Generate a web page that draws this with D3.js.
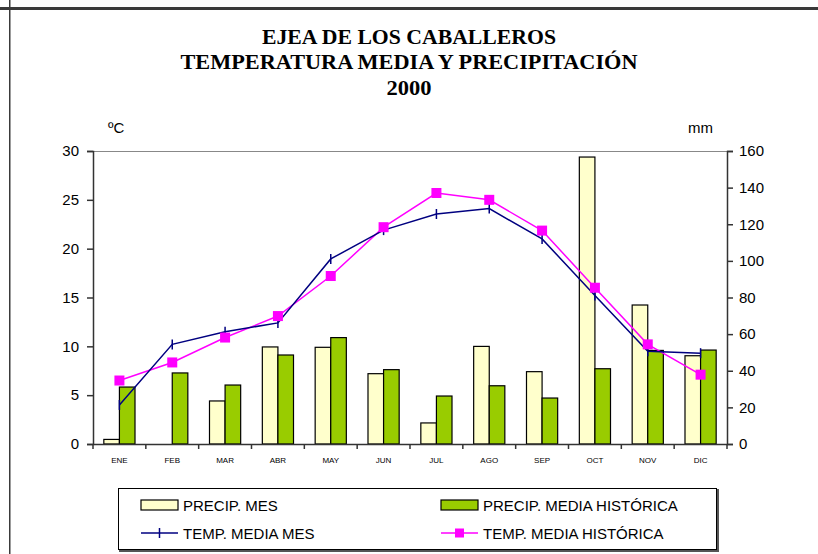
<!DOCTYPE html>
<html>
<head>
<meta charset="utf-8">
<script src="https://cdn.jsdelivr.net/npm/d3@7"></script>
<style>
  body { margin: 0; background: #fff; }
  svg text { font-family: "Liberation Sans", Arial, sans-serif; fill: #000; }
  .title { font-family: "Liberation Serif", "Times New Roman", serif; font-weight: bold; font-size: 20px; }
</style>
</head>
<body>
<div id="chart"></div>
<script>
const months = ['ENE', 'FEB', 'MAR', 'ABR', 'MAY', 'JUN', 'JUL', 'AGO', 'SEP', 'OCT', 'NOV', 'DIC'];
const precipMes = [2.5, 0, 23.5, 53, 52.8, 38.4, 11.5, 53.3, 39.5, 156.7, 75.9, 48.2];
const precipHist = [31.1, 38.8, 32.2, 48.6, 58.1, 40.6, 26.2, 31.8, 25.1, 41.1, 51.1, 51.3];
const tempMes = [4.0, 10.2, 11.5, 12.4, 18.95, 21.9, 23.55, 24.1, 21.0, 15.2, 9.5, 9.3];
const tempHist = [6.5, 8.35, 10.9, 13.1, 17.2, 22.2, 25.7, 25.0, 21.85, 16.0, 10.2, 7.1];
const leftTicks = [0, 5, 10, 15, 20, 25, 30];
const rightTicks = [0, 20, 40, 60, 80, 100, 120, 140, 160];
const titleLines = ['EJEA DE LOS CABALLEROS', 'TEMPERATURA MEDIA Y PRECIPITACIÓN', '2000'];
const titleWidths = [294, 457, 45];

const W = 818, H = 554;
const margin = {top: 151, right: 91, bottom: 110, left: 93};
const iw = W - margin.left - margin.right;
const ih = H - margin.top - margin.bottom;

const svg = d3.select('#chart').append('svg')
    .attr('width', W)
    .attr('height', H);

// frame lines
svg.append('rect').attr('x', 0).attr('y', 7).attr('width', W).attr('height', 3).attr('fill', '#3a3a3a');
svg.append('rect').attr('x', 9).attr('y', 0).attr('width', 1.5).attr('height', H).attr('fill', '#3a3a3a');

svg.selectAll('.title').data(titleLines).enter()
    .append('text')
    .attr('class', 'title')
    .attr('x', 409)
    .attr('y', (d, i) => 43.5 + i * 25.5)
    .attr('text-anchor', 'middle')
    .attr('textLength', (d, i) => titleWidths[i])
    .attr('lengthAdjust', 'spacingAndGlyphs')
    .text(d => d);

const g = svg.append('g').attr('transform', `translate(${margin.left},${margin.top})`);

const x = d3.scaleBand().domain(months).range([0, iw]);
const yT = d3.scaleLinear().domain([0, 30]).range([ih, 0]);
const yP = d3.scaleLinear().domain([0, 160]).range([ih, 0]);
const barW = x.bandwidth() * 0.295;

// top border of plot
g.append('line').attr('x1', 0).attr('x2', iw).attr('y1', 0.5).attr('y2', 0.5)
    .attr('stroke', '#888').attr('stroke-width', 1);

// bars
g.selectAll('.bm').data(months).enter().append('rect')
    .attr('x', d => x(d) + x.bandwidth() / 2 - barW)
    .attr('y', (d, i) => yP(precipMes[i]))
    .attr('width', barW)
    .attr('height', (d, i) => ih - yP(precipMes[i]))
    .attr('fill', '#ffffcc')
    .attr('stroke', '#000')
    .attr('stroke-width', 1.2)
    .style('display', (d, i) => precipMes[i] > 0 ? null : 'none');

g.selectAll('.bh').data(months).enter().append('rect')
    .attr('x', d => x(d) + x.bandwidth() / 2)
    .attr('y', (d, i) => yP(precipHist[i]))
    .attr('width', barW)
    .attr('height', (d, i) => ih - yP(precipHist[i]))
    .attr('fill', '#99cc00')
    .attr('stroke', '#000')
    .attr('stroke-width', 1.2);

// axes
const xAxis = d3.axisBottom(x).tickSize(0).tickPadding(13);
const xAxisG = g.append('g').attr('transform', `translate(0,${ih})`).call(xAxis);
xAxisG.select('.domain').attr('stroke', '#333').attr('stroke-width', 1.5);
xAxisG.selectAll('text').attr('font-size', 8).attr('fill', '#222')
    .attr('font-family', '"Liberation Sans", Arial, sans-serif');
// band boundary ticks
xAxisG.selectAll('.bt').data(d3.range(13)).enter().append('line')
    .attr('x1', i => i * x.step()).attr('x2', i => i * x.step())
    .attr('y1', 0).attr('y2', 5)
    .attr('stroke', '#333').attr('stroke-width', 1.5);

const yLeft = d3.axisLeft(yT).tickValues(leftTicks).tickSize(6).tickPadding(8);
const yLeftG = g.append('g').call(yLeft);
yLeftG.selectAll('line, path').attr('stroke', '#333').attr('stroke-width', 1.5);
yLeftG.selectAll('text').attr('font-size', 15)
    .attr('font-family', '"Liberation Sans", Arial, sans-serif');

const yRight = d3.axisRight(yP).tickValues(rightTicks).tickSize(6).tickPadding(6);
const yRightG = g.append('g').attr('transform', `translate(${iw},0)`).call(yRight);
yRightG.selectAll('line, path').attr('stroke', '#333').attr('stroke-width', 1.5);
yRightG.selectAll('text').attr('font-size', 15)
    .attr('font-family', '"Liberation Sans", Arial, sans-serif');

svg.append('text').attr('x', 108).attr('y', 133).attr('font-size', 15).text('ºC');
svg.append('text').attr('x', 688).attr('y', 133).attr('font-size', 15).text('mm');

// lines
const cx = d => x(d) + x.bandwidth() / 2;
const lineT = vals => d3.line().x((d, i) => cx(months[i])).y((d) => yT(d))(vals);

g.append('path').attr('d', lineT(tempHist))
    .attr('fill', 'none').attr('stroke', '#ff00ff').attr('stroke-width', 1.5);
g.append('path').attr('d', lineT(tempMes))
    .attr('fill', 'none').attr('stroke', '#000080').attr('stroke-width', 1.5);

g.selectAll('.mk').data(tempMes).enter().append('line')
    .attr('x1', (d, i) => cx(months[i])).attr('x2', (d, i) => cx(months[i]))
    .attr('y1', d => yT(d) - 5).attr('y2', d => yT(d) + 5)
    .attr('stroke', '#000080').attr('stroke-width', 1.5);

g.selectAll('.sq').data(tempHist).enter().append('rect')
    .attr('x', (d, i) => cx(months[i]) - 5).attr('y', d => yT(d) - 5)
    .attr('width', 10).attr('height', 10)
    .attr('fill', '#ff00ff');

// legend
const lg = svg.append('g');
lg.append('rect').attr('x', 120).attr('y', 490).attr('width', 598).attr('height', 61)
    .attr('fill', 'none').attr('stroke', '#555').attr('stroke-width', 2);
lg.append('rect').attr('x', 118.5).attr('y', 488.5).attr('width', 598).attr('height', 61)
    .attr('fill', '#fff').attr('stroke', '#000').attr('stroke-width', 1);

const legendItems = [
  {label: 'PRECIP. MES', type: 'bar', color: '#ffffcc', col: 0, row: 0},
  {label: 'PRECIP. MEDIA HISTÓRICA', type: 'bar', color: '#99cc00', col: 1, row: 0},
  {label: 'TEMP. MEDIA MES', type: 'cross', color: '#000080', col: 0, row: 1},
  {label: 'TEMP. MEDIA HISTÓRICA', type: 'square', color: '#ff00ff', col: 1, row: 1}
];
const colX = [141, 441];
const rowY = [505, 533];
legendItems.forEach(it => {
  const lx = colX[it.col], ly = rowY[it.row];
  if (it.type === 'bar') {
    lg.append('rect').attr('x', lx).attr('y', ly - 5).attr('width', 37).attr('height', 10)
      .attr('fill', it.color).attr('stroke', '#000').attr('stroke-width', 1.2);
  } else {
    lg.append('line').attr('x1', lx).attr('x2', lx + 37).attr('y1', ly).attr('y2', ly)
      .attr('stroke', it.color).attr('stroke-width', 1.5);
    if (it.type === 'cross') {
      lg.append('line').attr('x1', lx + 18.5).attr('x2', lx + 18.5).attr('y1', ly - 5).attr('y2', ly + 5)
        .attr('stroke', it.color).attr('stroke-width', 1.5);
    } else {
      lg.append('rect').attr('x', lx + 14).attr('y', ly - 4.5).attr('width', 9).attr('height', 9)
        .attr('fill', it.color);
    }
  }
  lg.append('text').attr('x', lx + 42).attr('y', ly + 5.5).attr('font-size', 15).text(it.label);
});
</script>
</body>
</html>
